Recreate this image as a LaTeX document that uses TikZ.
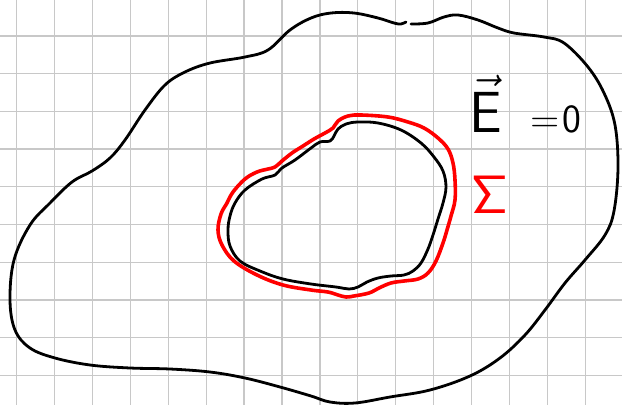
\RequirePackage{fix-cm}
\documentclass[tikz,border=0pt]{standalone}
\begin{document}
\begin{tikzpicture}[x=1pt,y=-1pt,
  gridline/.style={draw={rgb,255:red,200;green,200;blue,200},line width=1.3pt},
  inkblack/.style={draw=black,line width=2.8pt,line cap=round,line join=round},
  inkred/.style={draw=red,line width=3.6pt,line cap=round,line join=round},
  handtext/.style={inner sep=0pt,anchor=base west}]
\useasboundingbox (0,0) rectangle (622,405);
\fill[white] (0,0) rectangle (622,405);
% grid
\foreach \k in {0,...,15} {\draw[gridline] ({16.7+37.9*\k},0) -- ({16.7+37.9*\k},405);}
\foreach \k in {0,...,9} {\draw[gridline] (0,{36+37.7*\k}) -- (622,{36+37.7*\k});}
% outer boundary
\draw[inkblack] plot[smooth,tension=0.6] coordinates {
(411,24) (428,23) (444,17) (458,15) (478,20) (498,28) (514,33) (544,37) (564,43)
(588,67) (604,93) (615,125) (618,168) (614,211) (605,235) (585,260) (565,283)
(545,310) (525,335) (500,358) (470,376) (430,390) (390,397) (355,403) (330,402)
(311,396) (280,387) (245,378) (210,372) (170,369) (130,368) (90,365) (55,358)
(30,348) (15,330) (10,300) (14,260) (30,225) (50,203) (72,182) (92,171) (110,158)
(125,140) (145,110) (165,85) (185,72) (210,63) (245,57) (268,50) (290,30) (311,18)
(331,13) (354,13) (378,18) (394,23) (401,24) (406,22)};
% inner body
\draw[inkblack] plot[smooth cycle,tension=0.6] coordinates {
(235,203) (245,190) (262,179) (275,175) (282,168) (295,160) (311,148) (320,142)
(330,141) (334,136) (338,129) (346,124) (358,122) (378,123) (401,130) (421,143)
(434,157) (443,171) (446,187) (443,203) (438,219) (433,235) (428,249) (421,263)
(413,271) (404,275) (391,276) (378,278) (367,282) (358,287) (349,289) (336,287)
(311,284) (283,279) (260,271) (240,261) (230,246) (228,230) (230,216)};
% Gaussian surface
\draw[inkred] plot[smooth cycle,tension=0.6] coordinates {
(227,203) (233,192) (245,179) (257,172) (268,169) (275,167) (282,161) (292,153)
(303,146) (314,139) (325,133) (333,128) (338,121) (348,116) (361,115) (388,117)
(408,122) (424,128) (438,138) (448,149) (453,163) (455,180) (455,200) (451,216)
(447,230) (443,243) (436,261) (428,273) (418,279) (404,281) (391,283) (379,288)
(369,293) (354,296) (346,297) (338,295) (328,292) (311,290) (283,285) (257,275)
(234,261) (222,245) (218,230) (221,214)};
% labels
\node[handtext,font=\fontsize{58}{58}\selectfont] (E) at (469,132) {$\vec{\mathsf{E}}$};
\node[handtext,font=\fontsize{40}{40}\selectfont\sffamily] (eq) at (530,132) {=\kern3pt0};
\node[handtext,font=\fontsize{54}{54}\selectfont,text=red] (S) at (471,213) {$\mathsf{\Sigma}$};
\end{tikzpicture}
\end{document}
